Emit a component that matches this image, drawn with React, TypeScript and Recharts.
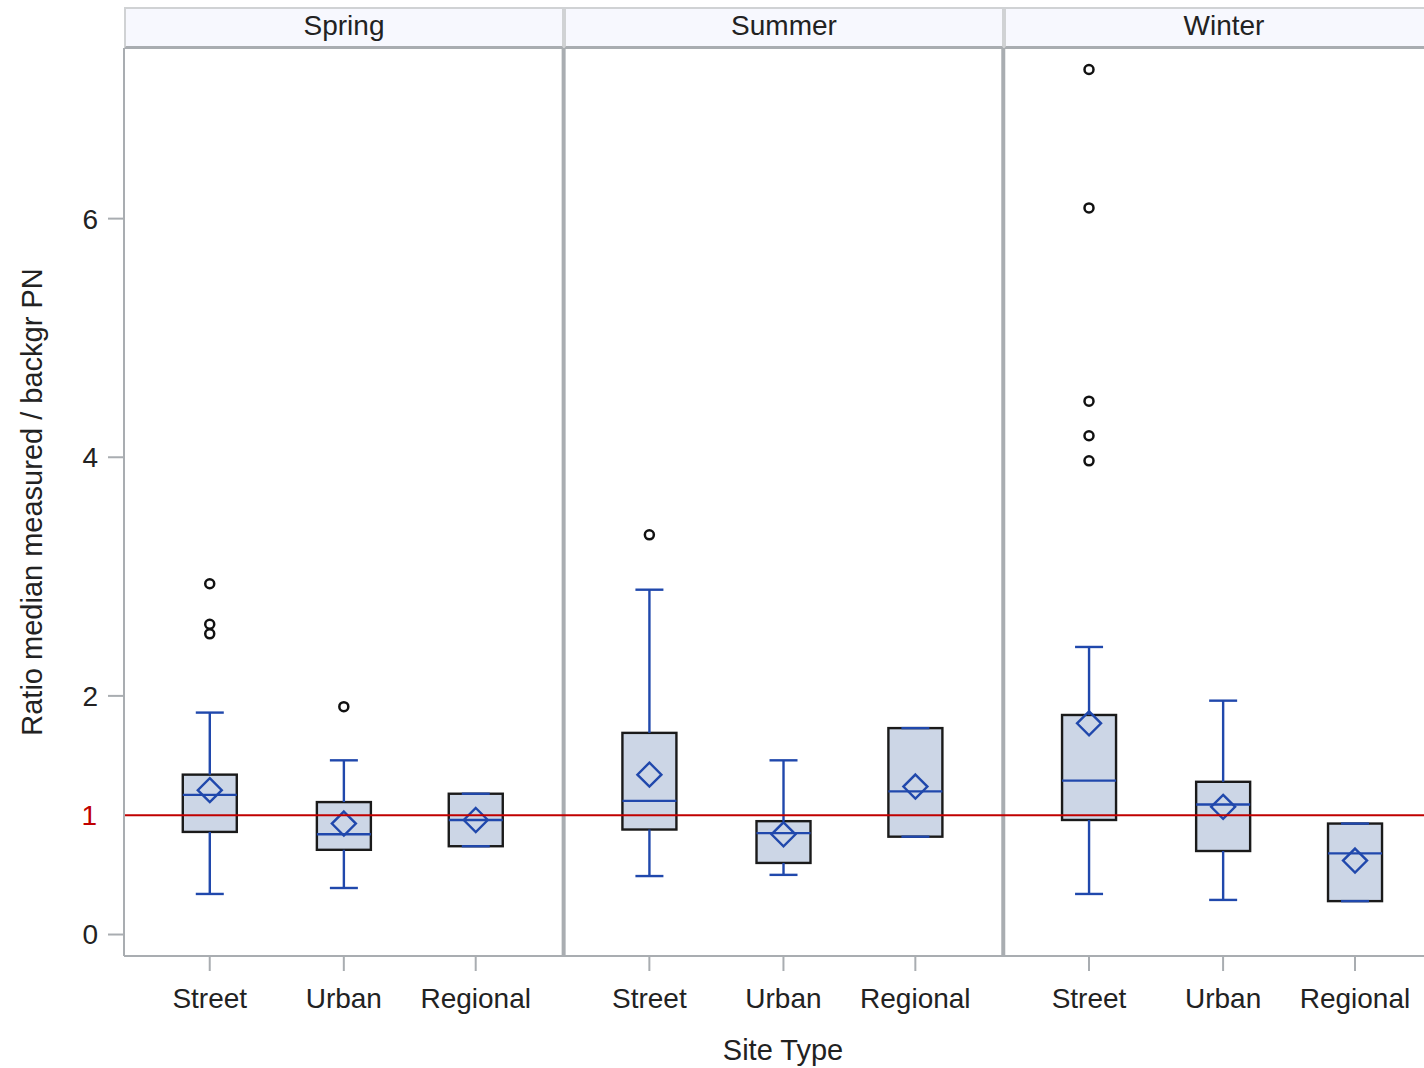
import React from 'react'
import { ComposedChart, Bar, Scatter, XAxis, YAxis, ReferenceLine } from 'recharts'

const seasons = ['Spring', 'Summer', 'Winter']
const siteTypes = ['Street', 'Urban', 'Regional']

// one entry per season x site type, in the order Spring/Street ... Winter/Regional
const boxMin = [0.34, 0.39, 0.74, 0.49, 0.5, 0.82, 0.34, 0.29, 0.28]
const boxQ1 = [0.86, 0.71, 0.74, 0.88, 0.6, 0.82, 0.96, 0.7, 0.28]
const boxMedian = [1.17, 0.84, 0.96, 1.12, 0.85, 1.2, 1.29, 1.09, 0.68]
const boxQ3 = [1.34, 1.11, 1.18, 1.69, 0.95, 1.73, 1.84, 1.28, 0.93]
const boxMax = [1.86, 1.46, 1.18, 2.89, 1.46, 1.73, 2.41, 1.96, 0.93]
const boxMean = [1.21, 0.93, 0.96, 1.34, 0.84, 1.24, 1.77, 1.07, 0.62]

// outliers: which box they belong to, and the value
const outlierBox = [0, 0, 0, 1, 3, 6, 6, 6, 6, 6]
const outlierValue = [2.94, 2.6, 2.52, 1.91, 3.35, 7.25, 6.09, 4.47, 4.18, 3.97]

const yTicks = [0, 2, 4, 6]

const PANEL = 10
const slotPos = [1.95, 5, 8]

const FONT = '"Liberation Sans", Arial, sans-serif'
const BLUE = '#2048AC'
const GRID = '#A9ADB1'

const boxData = boxMin.map((_, i) => ({
  x: Math.floor(i / 3) * PANEL + slotPos[i % 3],
  slot: i % 3,
  min: boxMin[i],
  q1: boxQ1[i],
  median: boxMedian[i],
  q3: boxQ3[i],
  max: boxMax[i],
  mean: boxMean[i],
}))

const outlierData = outlierValue.map((v, i) => ({
  x: boxData[outlierBox[i]].x,
  y: v,
}))

const BoxShape = (props: any) => {
  const { x, y, width, height, payload } = props
  const top = Math.min(y, y + height)
  const h = Math.abs(height)
  const ppu = h / (payload.max - payload.min)
  const py = (v: number) => top + (payload.max - v) * ppu
  const cx = x + width / 2
  const cap = 14
  const d = 12
  const my = py(payload.mean)
  const sw = 2.4
  return (
    <g>
      <rect
        x={x}
        y={py(payload.q3)}
        width={width}
        height={py(payload.q1) - py(payload.q3)}
        fill="#CCD6E6"
        stroke="#1A1A1A"
        strokeWidth={sw}
      />
      <line x1={cx} x2={cx} y1={py(payload.max)} y2={py(payload.q3)} stroke={BLUE} strokeWidth={sw} />
      <line x1={cx} x2={cx} y1={py(payload.q1)} y2={py(payload.min)} stroke={BLUE} strokeWidth={sw} />
      <line x1={cx - cap} x2={cx + cap} y1={py(payload.max)} y2={py(payload.max)} stroke={BLUE} strokeWidth={sw} />
      <line x1={cx - cap} x2={cx + cap} y1={py(payload.min)} y2={py(payload.min)} stroke={BLUE} strokeWidth={sw} />
      <line x1={x} x2={x + width} y1={py(payload.median)} y2={py(payload.median)} stroke={BLUE} strokeWidth={sw} />
      <path
        d={`M${cx},${my - d}L${cx + d},${my}L${cx},${my + d}L${cx - d},${my}Z`}
        fill="none"
        stroke={BLUE}
        strokeWidth={sw}
      />
    </g>
  )
}

const OutlierShape = (props: any) => (
  <circle cx={props.cx} cy={props.cy} r={4.5} fill="#fff" stroke="#111" strokeWidth={2.5} />
)

const tickLabel = (v: number) => {
  const row = boxData.find(d => Math.abs(d.x - v) < 0.01)
  return row ? siteTypes[row.slot] : ''
}

export default function App() {
  return (
    <div style={{ position: 'absolute', left: 0, top: 0, width: 1424, height: 1068, overflow: 'hidden', background: '#fff', fontFamily: FONT }}>
      {seasons.map((s, i) => (
        <div
          key={s}
          style={{
            position: 'absolute',
            left: 124 + i * 440,
            top: 7,
            width: 440,
            height: 42,
            boxSizing: 'border-box',
            background: '#F7F8FE',
            border: '2px solid #D0D2D4',
            borderBottom: `3px solid ${GRID}`,
            textAlign: 'center',
            fontSize: 28,
            lineHeight: '33px',
            color: '#222',
          }}
        >
          {s}
        </div>
      ))}
      <ComposedChart
        width={1424}
        height={1068}
        data={boxData}
        margin={{ top: 48, right: 0, bottom: 0, left: 0 }}
        style={{ position: 'absolute', left: 0, top: 0 }}
      >
        <XAxis
          type="number"
          dataKey="x"
          domain={[0, 29.57]}
          allowDataOverflow
          ticks={boxData.map(d => d.x)}
          interval={0}
          tickFormatter={tickLabel}
          height={112}
          tickSize={15}
          tickMargin={17}
          stroke={GRID}
          axisLine={{ stroke: GRID, strokeWidth: 2 }}
          tickLine={{ stroke: GRID, strokeWidth: 2 }}
          tick={{ fill: '#222', fontSize: 28, fontFamily: FONT }}
          label={{ value: 'Site Type', position: 'insideBottom', offset: 8, dx: 9, fill: '#222', fontSize: 29, fontFamily: FONT }}
        />
        <YAxis
          type="number"
          domain={[-0.18, 7.43]}
          allowDataOverflow
          ticks={yTicks}
          width={124}
          tickSize={16}
          tickMargin={10}
          axisLine={{ stroke: GRID, strokeWidth: 2 }}
          tickLine={{ stroke: GRID, strokeWidth: 2 }}
          tick={{ fill: '#222', fontSize: 28, fontFamily: FONT }}
          label={{
            value: 'Ratio median measured / backgr PN',
            angle: -90,
            position: 'insideLeft',
            offset: 32,
            fill: '#222',
            fontSize: 29,
            fontFamily: FONT,
            style: { textAnchor: 'middle' },
          }}
        />
        <ReferenceLine x={PANEL} stroke={GRID} strokeWidth={4} />
        <ReferenceLine x={PANEL * 2} stroke={GRID} strokeWidth={4} />
        <Bar
          dataKey={(d: any) => [d.min, d.max]}
          barSize={54}
          shape={BoxShape}
          isAnimationActive={false}
        />
        <ReferenceLine
          y={1}
          stroke="#C00000"
          strokeWidth={2}
          label={{ value: '1', position: 'left', offset: 27, fill: '#C00000', fontSize: 28, fontFamily: FONT }}
        />
        <Scatter data={outlierData} dataKey="y" shape={OutlierShape} isAnimationActive={false} />
      </ComposedChart>
    </div>
  )
}
